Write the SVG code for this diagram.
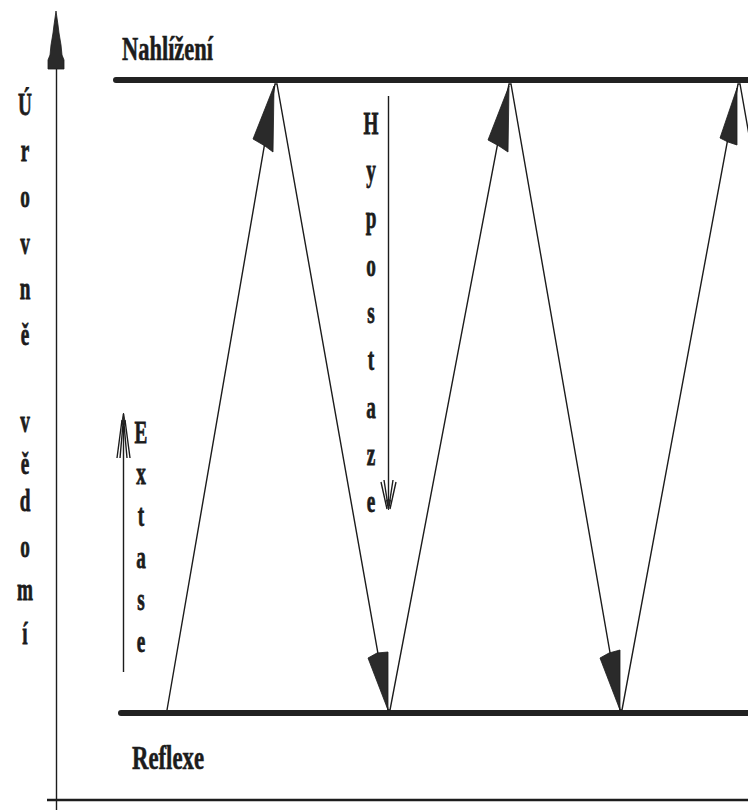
<svg xmlns="http://www.w3.org/2000/svg" width="748" height="810" viewBox="0 0 748 810">
<style>
.lbl{font-family:"Liberation Serif","DejaVu Serif",serif;font-weight:bold;fill:#1c1c1c;stroke:#1c1c1c;stroke-width:0.6;}
.col{font-family:"Liberation Serif","DejaVu Serif",serif;font-weight:bold;font-size:32px;fill:#1c1c1c;stroke:#1c1c1c;stroke-width:0.8;text-anchor:middle;}
.thin{stroke:#1c1c1c;stroke-width:1.4;fill:none;}
.bar{stroke:#222;stroke-width:6;stroke-linecap:round;fill:none;}
.head{fill:#2a2a2a;stroke:#1c1c1c;stroke-width:0.8;}
</style>
<rect width="748" height="810" fill="#ffffff"/>
<g id="axis">
<line class="thin" x1="56.5" y1="60" x2="56.5" y2="810" stroke-width="2"/>
<polygon class="head" points="56,11 58,25 59,33 61,45 62,55 64,60 64,69 48,69 48,60 50,55 51,45 53,33 54,25"/>
<line x1="47" y1="800" x2="748" y2="800" stroke="#1c1c1c" stroke-width="2.5"/>
</g>
<g id="level-nahlizeni">
<line class="bar" x1="116" y1="80" x2="752" y2="80"/>
<text class="lbl" x="122" y="60" font-size="33" textLength="91" lengthAdjust="spacingAndGlyphs">Nahlížení</text>
</g>
<g id="level-reflexe">
<line class="bar" x1="121" y1="713" x2="752" y2="713"/>
<text class="lbl" x="132" y="769" font-size="33" textLength="72" lengthAdjust="spacingAndGlyphs">Reflexe</text>
</g>
<g id="label-urovne">
<g transform="translate(25,0) scale(0.6,1)">
<text class="col" x="0" y="115">Ú</text>
<text class="col" x="0" y="161">r</text>
<text class="col" x="0" y="207">o</text>
<text class="col" x="0" y="254">v</text>
<text class="col" x="0" y="299">n</text>
<text class="col" x="0" y="345">ě</text>
<text class="col" x="0" y="432">v</text>
<text class="col" x="0" y="474">ě</text>
<text class="col" x="0" y="511">d</text>
<text class="col" x="0" y="557">o</text>
<text class="col" x="0" y="600">m</text>
<text class="col" x="0" y="644">í</text>
</g>
</g>
<g id="label-hypostaze">
<g transform="translate(371,0) scale(0.6,1)">
<text class="col" x="0" y="134">H</text>
<text class="col" x="0" y="181">y</text>
<text class="col" x="0" y="228">p</text>
<text class="col" x="0" y="276">o</text>
<text class="col" x="0" y="323">s</text>
<text class="col" x="0" y="370">t</text>
<text class="col" x="0" y="418">a</text>
<text class="col" x="0" y="465">z</text>
<text class="col" x="0" y="512">e</text>
</g>
<line class="thin" x1="388.5" y1="96" x2="388.5" y2="508"/>
<path class="thin" d="M381,482 L387,509 M384,480 L388,506 M396,482 L390,509 M393,480 L389,506"/>
<polygon class="head" points="386.5,500 390.5,500 388.5,510"/>
</g>
<g id="label-extase">
<g transform="translate(141,0) scale(0.6,1)">
<text class="col" x="0" y="443">E</text>
<text class="col" x="0" y="484">x</text>
<text class="col" x="0" y="526">t</text>
<text class="col" x="0" y="568">a</text>
<text class="col" x="0" y="610">s</text>
<text class="col" x="0" y="652">e</text>
</g>
<line class="thin" x1="123.5" y1="414" x2="123.5" y2="672"/>
<path class="thin" d="M117,458 L122,420 M120,458 L123,424 M130,458 L125,420 M127,458 L124,424"/>
<polygon class="head" points="121.5,424 125.5,424 123.5,413"/>
</g>
<g id="connectors">
<polyline class="thin" points="167,710 275,84 277,84 388,710 390,710 509,84 511,84 620,710 622,710 738,84 740,84 752,152"/>
<polygon class="head" points="274,86 253,139 265,146 273,152"/>
<polygon class="head" points="509,86 488,140 499,146 508,152"/>
<polygon class="head" points="737,88 720,138 728,142 737,145"/>
<polygon class="head" points="388,710 368,658 377,653 388,652"/>
<polygon class="head" points="620,710 600,658 609,653 620,650"/>
</g>
</svg>
